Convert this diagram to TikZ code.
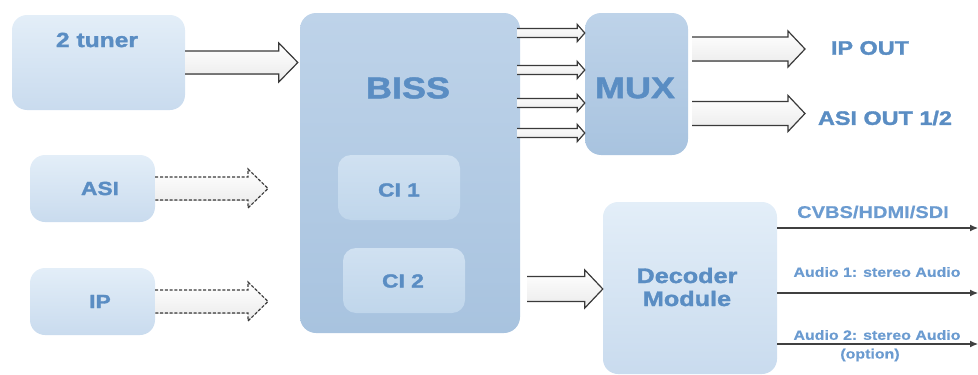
\documentclass[tikz,border=0pt]{standalone}
\usepackage{fontspec}
\setmainfont{Liberation Sans}
\newfontfamily\hv{Liberation Sans Bold}[FakeStretch=1.2, FakeBold=1.6]
\newfontfamily\hvl{Liberation Sans Bold}[FakeStretch=1.18, FakeBold=0.6]
\usetikzlibrary{calc,arrows.meta}
\definecolor{txt}{HTML}{5A8DC3}
\definecolor{txtl}{HTML}{6B9BD0}
\definecolor{dkT}{HTML}{BED3E9}
\definecolor{dkB}{HTML}{A8C3DF}
\definecolor{ltT}{HTML}{E3EEF8}
\definecolor{ltB}{HTML}{C9DBEE}
\definecolor{ciT}{HTML}{D0E1F1}
\definecolor{ciB}{HTML}{C0D6EB}
\definecolor{arrl}{HTML}{3A3A3A}
\tikzset{
  darkbox/.style={rounded corners=16pt, top color=dkT, bottom color=dkB, draw=none, inner sep=0pt},
  lightbox/.style={rounded corners=15pt, top color=ltT, bottom color=ltB, draw=none, inner sep=0pt},
  cibox/.style={rounded corners=13pt, top color=ciT, bottom color=ciB, draw=none, inner sep=0pt},
  lbl/.style={text=txt, font=\hv\fontsize{#1}{#1}\selectfont, inner sep=0pt},
  olbl/.style={text=txtl, font=\hvl\fontsize{#1}{#1}\selectfont, inner sep=0pt, align=center},
  arrfill/.style={top color=white, bottom color=black!8},
  arrline/.style={draw=arrl, line width=1.2pt, line join=miter},
  dashline/.style={dash pattern=on 3pt off 1.8pt},
  outarr/.style={draw=black!75, line width=1.1pt, -{Latex[length=8pt,width=7pt]}},
}
% #1 start, #2 end, #3 shaft half width, #4 head half width, #5 head length, #6 extra style
\newcommand\blockarr[6]{%
  \fill[arrfill] ($(#1)+(0,-#3)$) -- ($(#2)+(-#5,-#3)$) -- ($(#2)+(-#5,-#4)$) -- (#2)
     -- ($(#2)+(-#5,#4)$) -- ($(#2)+(-#5,#3)$) -- ($(#1)+(0,#3)$) -- cycle;
  \draw[arrline,#6] ($(#1)+(0,-#3)$) -- ($(#2)+(-#5,-#3)$) -- ($(#2)+(-#5,-#4)$) -- (#2)
     -- ($(#2)+(-#5,#4)$) -- ($(#2)+(-#5,#3)$) -- ($(#1)+(0,#3)$);
}
\begin{document}
\begin{tikzpicture}[x=1pt,y=-1pt]
\useasboundingbox (0,0) rectangle (978,375);
% boxes
\node[lightbox, minimum width=173pt, minimum height=95pt] (tuner) at (98.5,62.5) {};
\node[lbl=20.5] (tunerT) at (97,40) {2 tuner};
\node[darkbox, minimum width=220pt, minimum height=320pt] (biss) at (410,173) {};
\node[lbl=30] (bissT) at (408,88) {BISS};
\node[cibox, minimum width=122pt, minimum height=65pt] (ci1) at (399,187.5) {};
\node[lbl=19] (ci1T) at (399,190) {CI 1};
\node[cibox, minimum width=122pt, minimum height=65pt] (ci2) at (404,280.5) {};
\node[lbl=19] (ci2T) at (403,281) {CI 2};
\node[darkbox, minimum width=103pt, minimum height=142pt] (mux) at (636.5,84) {};
\node[lbl=30] (muxT) at (635,88) {MUX};
\node[lightbox, minimum width=125pt, minimum height=67pt] (asi) at (92.5,188.5) {};
\node[lbl=19] (asiT) at (100,188.5) {ASI};
\node[lightbox, minimum width=125pt, minimum height=67pt] (ip) at (92.5,301.5) {};
\node[lbl=19] (ipT) at (100,301.5) {IP};
\node[lightbox, minimum width=174pt, minimum height=172pt] (dec) at (690,288) {};
\node[lbl=21, align=center] (decT) at (687,287) {Decoder\\[2pt]Module};
% output labels
\node[lbl=19.5] (ipout) at (870,48) {IP OUT};
\node[lbl=19.5] (asiout) at (885,118) {ASI OUT 1/2};
\node[olbl=17] (cvbs) at (873,212) {CVBS/HDMI/SDI};
\node[olbl=13.5] (aud1) at (877,272) {Audio 1: stereo Audio};
\node[olbl=13.5] (aud2) at (877,335) {Audio 2: stereo Audio};
\node[olbl=13.5] (aud2o) at (870,355) {(option)};
% helper coordinates
\path (0,33) coordinate (r1) (0,70) coordinate (r2) (0,103) coordinate (r3) (0,133) coordinate (r4)
      (0,49) coordinate (r5) (0,113.5) coordinate (r6) (0,289) coordinate (r7)
      (0,228) coordinate (r8) (0,293) coordinate (r9) (0,344) coordinate (r10);
\coordinate (tunerA) at (tuner.east);
\coordinate (bissA) at ($(biss.west |- tunerA)+(-2,0)$);
\coordinate (asiE) at (268,188.5);
\coordinate (ipE) at (268,301.5);
\foreach \i in {1,2,3,4}{
  \coordinate (s\i) at ($(biss.east |- r\i)+(-3,0)$);
  \coordinate (m\i) at (mux.west |- r\i);
}
\coordinate (mo1) at ($(mux.east |- r5)+(4,0)$);
\coordinate (mo1E) at (805,49);
\coordinate (mo2) at ($(mux.east |- r6)+(4,0)$);
\coordinate (mo2E) at (805,113.5);
\coordinate (ciOut) at (527,289);
\coordinate (decIn) at (dec.west |- r7);
% block arrows
\blockarr{tunerA}{bissA}{11.5}{19.5}{19}{}
\blockarr{asi.east}{asiE}{11.5}{19.5}{20}{dashline}
\blockarr{ip.east}{ipE}{11.5}{19.5}{20}{dashline}
\foreach \i in {1,2,3,4}{ \blockarr{s\i}{m\i}{4.5}{8.5}{7.5}{} }
\blockarr{mo1}{mo1E}{12}{18}{17}{}
\blockarr{mo2}{mo2E}{12}{18}{17}{}
\blockarr{ciOut}{decIn}{12.5}{19}{18}{}
% decoder outputs
\coordinate (o1) at (978,228);
\coordinate (o2) at (978,293);
\coordinate (o3) at (978,344);
\draw[outarr] (dec.east |- r8) -- (o1);
\draw[outarr] (dec.east |- r9) -- (o2);
\draw[outarr] (dec.east |- r10) -- (o3);
\end{tikzpicture}
\end{document}
